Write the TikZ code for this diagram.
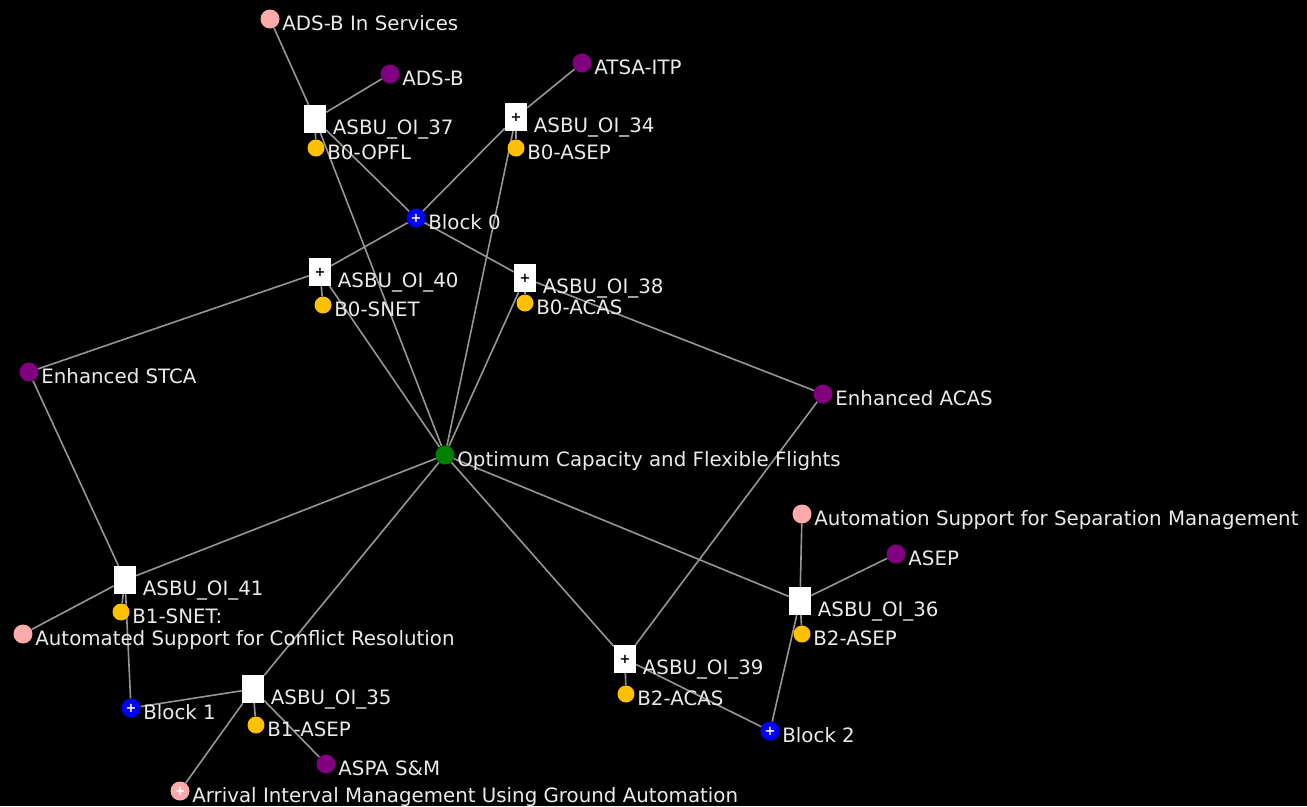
\documentclass[tikz,border=0pt]{standalone}
\usepackage{fontspec}
\setmainfont{DejaVu Sans}
\usepackage{tikz}
\usetikzlibrary{backgrounds}
\definecolor{pinknode}{RGB}{255,170,170}
\definecolor{purplenode}{RGB}{128,0,128}
\definecolor{yellownode}{RGB}{255,192,0}
\definecolor{greennode}{RGB}{0,128,0}
\definecolor{bluenode}{RGB}{0,0,255}
\definecolor{edgegray}{RGB}{150,150,150}
\definecolor{textgray}{RGB}{235,235,235}

\begin{document}
\begin{tikzpicture}[x=1pt, y=-1pt,
    every label/.style={text=textgray, inner sep=0pt, font=\fontsize{19.8}{22}\selectfont},
    circ/.style={circle, inner sep=0pt, minimum size=19pt,
        label={[anchor=base west, xshift=2.5pt, yshift=-11pt]east:#1}},
    pinkc/.style={circ=#1, fill=pinknode},
    purplec/.style={circ=#1, fill=purplenode},
    yellowc/.style={circ=#1, fill=yellownode, minimum size=17pt},
    greenc/.style={circ=#1, fill=greennode},
    bluec/.style={circ=#1, fill=bluenode, text=white, font=\bfseries\fontsize{13}{13}\selectfont},
    oibox/.style={rectangle, fill=white, inner sep=0pt, minimum width=22pt, minimum height=28pt,
        font=\bfseries\fontsize{13}{13}\selectfont,
        label={[anchor=base west, xshift=6.5pt, yshift=-15pt]east:#1}},
    edge/.style={draw=edgegray, line width=1.6pt}]

    % Background
    \begin{scope}[on background layer]
        \fill[black] (0,0) rectangle (1307,806);
    \end{scope}

    % Centre
    \node[greenc=Optimum Capacity and Flexible Flights] (opt) at (445,455) {};

    % Blocks
    \node[bluec=Block 0] (blk0) at (416,218) {+};
    \node[bluec=Block 1] (blk1) at (131,708) {+};
    \node[bluec=Block 2] (blk2) at (770,731) {+};

    % ASBU boxes
    \node[oibox=ASBU\_OI\_37] (oi37) at (315,119) {};
    \node[oibox=ASBU\_OI\_34] (oi34) at (516,117) {+};
    \node[oibox=ASBU\_OI\_40] (oi40) at (320,272) {+};
    \node[oibox=ASBU\_OI\_38] (oi38) at (525,278) {+};
    \node[oibox=ASBU\_OI\_41] (oi41) at (125,580) {};
    \node[oibox=ASBU\_OI\_35] (oi35) at (253,689) {};
    \node[oibox=ASBU\_OI\_39] (oi39) at (625,659) {+};
    \node[oibox=ASBU\_OI\_36] (oi36) at (800,601) {};

    % Modules
    \node[yellowc=B0-OPFL] (b0opfl) at (316,148) {};
    \node[yellowc=B0-ASEP] (b0asep) at (516,148) {};
    \node[yellowc=B0-SNET] (b0snet) at (323,305) {};
    \node[yellowc=B0-ACAS] (b0acas) at (525,303) {};
    \node[yellowc=B1-SNET:] (b1snet) at (121,612) {};
    \node[yellowc=B1-ASEP] (b1asep) at (256,725) {};
    \node[yellowc=B2-ACAS] (b2acas) at (626,694) {};
    \node[yellowc=B2-ASEP] (b2asep) at (802,634) {};

    % Technologies
    \node[purplec=ADS-B] (adsb) at (390,74) {};
    \node[purplec=ATSA-ITP] (atsa) at (582,63) {};
    \node[purplec=Enhanced STCA] (stca) at (29,372) {};
    \node[purplec=Enhanced ACAS] (eacas) at (823,394) {};
    \node[purplec=ASEP] (asep) at (896,554) {};
    \node[purplec=ASPA S\&M] (aspa) at (326,764) {};

    % Services
    \node[pinkc=ADS-B In Services] (adsbin) at (270,19) {};
    \node[pinkc=Automation Support for Separation Management] (assm) at (802,514) {};
    \node[pinkc=Automated Support for Conflict Resolution] (acr) at (23,634) {};
    \node[pinkc=Arrival Interval Management Using Ground Automation, text=white,
          font=\bfseries\fontsize{13}{13}\selectfont] (aim) at (180,791) {+};

    % Edges
    \begin{scope}[on background layer]
        \draw[edge] (adsbin) -- (oi37);
        \draw[edge] (adsb) -- (oi37);
        \draw[edge] (oi37) -- (b0opfl);
        \draw[edge] (oi37) -- (blk0);
        \draw[edge] (oi37) -- (opt);
        \draw[edge] (atsa) -- (oi34);
        \draw[edge] (oi34) -- (b0asep);
        \draw[edge] (oi34) -- (blk0);
        \draw[edge] (oi34) -- (opt);
        \draw[edge] (blk0) -- (oi40);
        \draw[edge] (blk0) -- (oi38);
        \draw[edge] (oi40) -- (b0snet);
        \draw[edge] (oi40) -- (stca);
        \draw[edge] (oi40) -- (opt);
        \draw[edge] (oi38) -- (b0acas);
        \draw[edge] (oi38) -- (eacas);
        \draw[edge] (oi38) -- (opt);
        \draw[edge] (stca) -- (oi41);
        \draw[edge] (oi41) -- (b1snet);
        \draw[edge] (oi41) -- (acr);
        \draw[edge] (oi41) -- (blk1);
        \draw[edge] (oi41) -- (opt);
        \draw[edge] (blk1) -- (oi35);
        \draw[edge] (oi35) -- (b1asep);
        \draw[edge] (oi35) -- (aspa);
        \draw[edge] (oi35) -- (aim);
        \draw[edge] (oi35) -- (opt);
        \draw[edge] (eacas) -- (oi39);
        \draw[edge] (oi39) -- (b2acas);
        \draw[edge] (oi39) -- (blk2);
        \draw[edge] (oi39) -- (opt);
        \draw[edge] (oi36) -- (assm);
        \draw[edge] (oi36) -- (asep);
        \draw[edge] (oi36) -- (b2asep);
        \draw[edge] (oi36) -- (blk2);
        \draw[edge] (oi36) -- (opt);
    \end{scope}
\end{tikzpicture}
\end{document}
